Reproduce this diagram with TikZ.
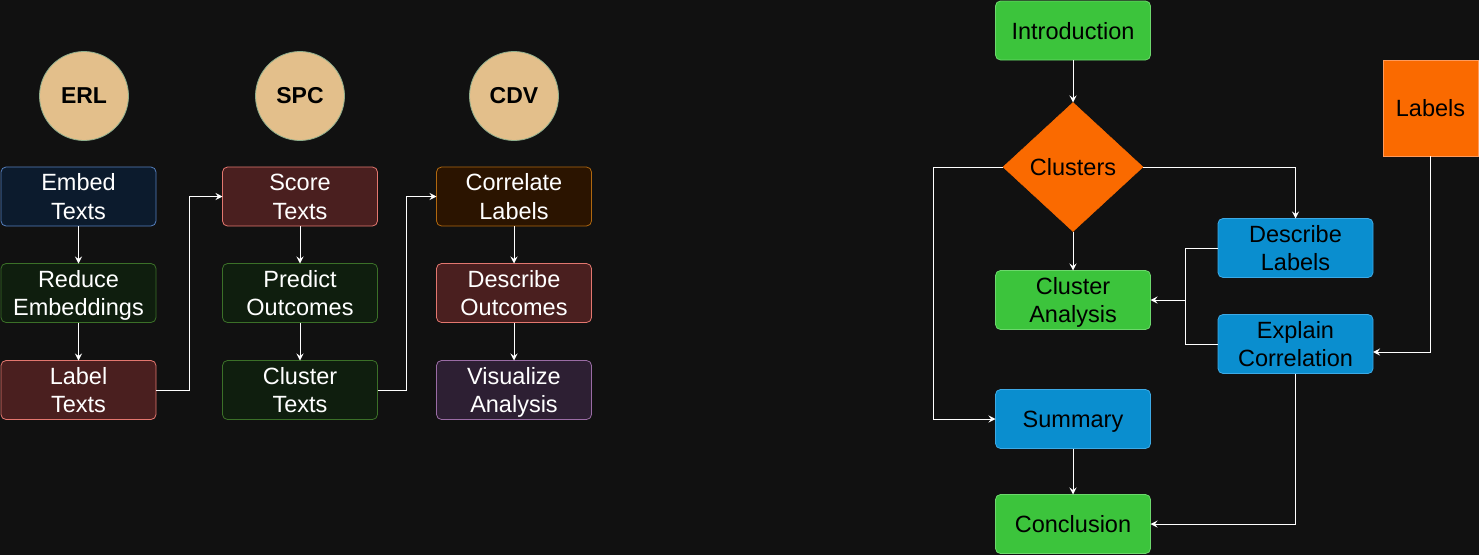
\documentclass[tikz,border=0pt]{standalone}
\usepackage{fontspec}
\setmainfont{Liberation Sans}
\usetikzlibrary{arrows.meta,shapes.geometric}
\definecolor{bg}{HTML}{111111}
\definecolor{tan}{HTML}{E3BF8B}
\definecolor{tanD}{HTML}{8FAE8C}
\definecolor{blueF}{HTML}{0C1B2D}
\definecolor{blueD}{HTML}{5580BE}
\definecolor{greenF}{HTML}{0F1E0E}
\definecolor{greenD}{HTML}{3B7028}
\definecolor{redF}{HTML}{4A1F1F}
\definecolor{redD}{HTML}{E3776F}
\definecolor{brownF}{HTML}{2B1400}
\definecolor{brownD}{HTML}{B0680F}
\definecolor{purpF}{HTML}{2D1F33}
\definecolor{purpD}{HTML}{9A6CA5}
\definecolor{lgF}{HTML}{3CC43C}
\definecolor{lgD}{HTML}{6DD86D}
\definecolor{lbF}{HTML}{0A8ECF}
\definecolor{lbD}{HTML}{3DAAE6}
\definecolor{orF}{HTML}{FA6A00}
\definecolor{orD}{HTML}{FF9A5A}
\newcommand\Fl[1]{\rule{0pt}{17pt}\smash{#1}}
\newcommand\Ln[1]{\smash{#1}}
\tikzset{
  txt/.style={font=\fontsize{23.5}{28.5}\selectfont, align=center},
  box/.style={rectangle, rounded corners=5pt, minimum width=155pt, minimum height=59pt,
    inner sep=0pt, outer sep=0pt, txt, line width=0.8pt},
  dbox/.style={box, text=white},
  lbox/.style={box, text=black},
  blueb/.style={dbox, fill=blueF, draw=blueD},
  greenb/.style={dbox, fill=greenF, draw=greenD},
  redb/.style={dbox, fill=redF, draw=redD},
  brownb/.style={dbox, fill=brownF, draw=brownD},
  purpb/.style={dbox, fill=purpF, draw=purpD},
  lgb/.style={lbox, fill=lgF, draw=lgD},
  lbb/.style={lbox, fill=lbF, draw=lbD},
  badge/.style={circle, minimum size=89pt, inner sep=0pt, outer sep=0pt, fill=tan, draw=tanD, line width=0.8pt,
    font=\fontsize{23}{27}\selectfont\bfseries, text=black},
  arr/.style={draw=white, line width=1pt, -{Stealth[length=7pt,width=7pt,inset=2.5pt]}},
}
\begin{document}
\begin{tikzpicture}[x=1pt,y=-1pt]
\fill[bg] (0,0) rectangle (1479,555);
\useasboundingbox (0,0) rectangle (1479,555);
% badges
\node[badge] (erl) at (84,96) {ERL};
\node[badge] (spc) at (300,96) {SPC};
\node[badge] (cdv) at (514,96) {CDV};
% column 1
\node[blueb] (embed) at (78.5,196.5) {\Fl{Embed}\\\Ln{Texts}};
\node[greenb] (reduce) at (78.5,293) {\Fl{Reduce}\\\Ln{Embeddings}};
\node[redb] (label) at (78.5,390) {\Fl{Label}\\\Ln{Texts}};
% column 2
\node[redb] (score) at (300,196.5) {\Fl{Score}\\\Ln{Texts}};
\node[greenb] (predict) at (300,293) {\Fl{Predict}\\\Ln{Outcomes}};
\node[greenb] (cluster) at (300,390) {\Fl{Cluster}\\\Ln{Texts}};
% column 3
\node[brownb] (correlate) at (514,196.5) {\Fl{Correlate}\\\Ln{Labels}};
\node[redb] (describeo) at (514,293) {\Fl{Describe}\\\Ln{Outcomes}};
\node[purpb] (visualize) at (514,390) {\Fl{Visualize}\\\Ln{Analysis}};
% left arrows
\draw[arr] (embed) -- (reduce);
\draw[arr] (reduce) -- (label);
\draw[arr] (score) -- (predict);
\draw[arr] (predict) -- (cluster);
\draw[arr] (correlate) -- (describeo);
\draw[arr] (describeo) -- (visualize);
\draw[arr] (label.east) -- ++(33,0) |- (score.west);
\draw[arr] (cluster.east) -- ++(29,0) |- (correlate.west);
% right part
\node[lgb] (intro) at (1073,30.5) {\Fl{Introduction}};
\node[diamond, fill=orF, draw=orF, minimum width=140pt, minimum height=129pt, aspect=1.085, inner sep=0pt, outer sep=0pt,
  txt, text=black] (clusters) at (1073,167) {\Fl{Clusters}};
\node[lgb] (canalysis) at (1073,300) {\Fl{Cluster}\\\Ln{Analysis}};
\node[lbb] (summary) at (1073,419) {\Fl{Summary}};
\node[lgb] (conclusion) at (1073,524) {\Fl{Conclusion}};
\node[lbb] (describel) at (1295.5,248) {\Fl{Describe}\\\Ln{Labels}};
\node[lbb] (explain) at (1295.5,344) {\Fl{Explain}\\\Ln{Correlation}};
\node[rectangle, fill=orF, draw=orD, line width=0.8pt, minimum width=95pt, minimum height=96pt, inner sep=0pt, outer sep=0pt,
  txt, text=black] (labels) at (1430.5,108) {\Fl{Labels}};
\coordinate (join) at (1185,300);
\draw[arr] (intro) -- (clusters);
\draw[arr] (clusters) -- (canalysis);
\draw[arr] (clusters.east) -| (describel.north);
\draw[arr] (clusters.west) -- ++(-70,0) |- (summary.west);
\draw[white, line width=1pt] (describel.west) -| (join);
\draw[white, line width=1pt] (explain.west) -| (join);
\draw[arr] (join) -- (canalysis.east);
\draw[arr] (labels.south) |- ([yshift=-8pt]explain.east);
\draw[arr] (explain.south) |- (conclusion.east);
\draw[arr] (summary) -- (conclusion);
\end{tikzpicture}
\end{document}
